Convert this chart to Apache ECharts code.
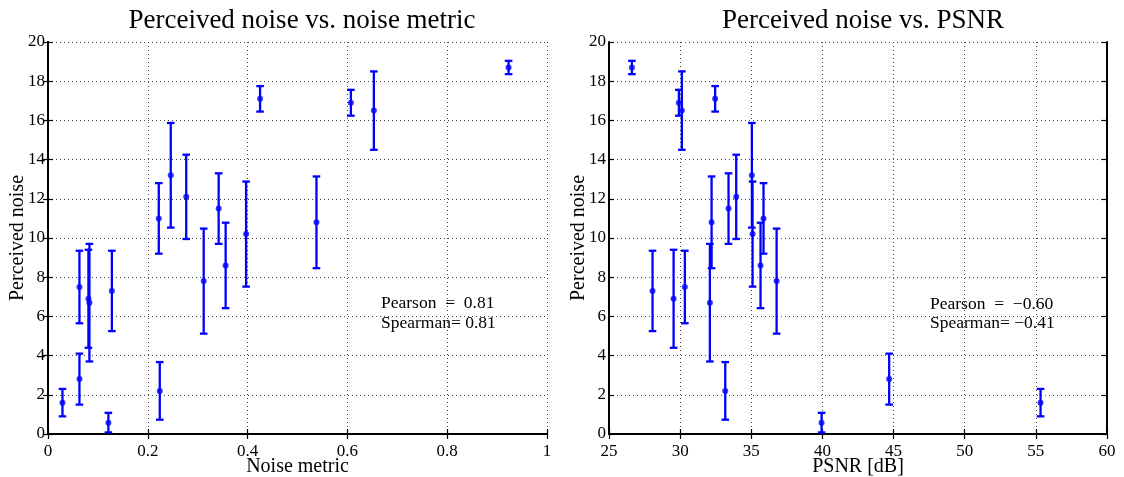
<!DOCTYPE html>
<html><head><meta charset="utf-8">
<script src="https://cdn.jsdelivr.net/npm/echarts@6/dist/echarts.min.js"></script>
<style>html,body{margin:0;padding:0;background:#fff}#c{width:1124px;height:477px}</style>
</head><body><div id="c"></div>
<script>
// Data (20 stimuli)
const noiseMetric = [0.029,0.063,0.063,0.081,0.083,0.128,0.121,0.222,0.224,0.246,0.277,0.312,0.342,0.356,0.397,0.425,0.538,0.607,0.653,0.923];
const psnr        = [55.33,44.69,30.33,29.54,32.09,28.06,39.94,35.86,33.17,35.04,33.94,36.78,33.40,35.65,35.09,32.46,32.21,29.91,30.12,26.61];
const perceived   = [1.6,2.8,7.5,6.9,6.7,7.3,0.58,11.0,2.2,13.2,12.1,7.8,11.5,8.6,10.2,17.1,10.8,16.9,16.5,18.7];
const errHalf     = [0.7,1.3,1.85,2.5,3.0,2.05,0.5,1.8,1.47,2.67,2.15,2.68,1.8,2.18,2.68,0.65,2.34,0.66,2.0,0.34];
const yTicks = [0,2,4,6,8,10,12,14,16,18,20];
const leftX = {min:0, max:1, interval:0.2};
const rightX = {min:25, max:60, interval:5};
const titles = ['Perceived noise vs. noise metric','Perceived noise vs. PSNR'];
const xNames = ['Noise metric','PSNR [dB]'];
const yName = 'Perceived noise';
const stats = [['Pearson  =  0.81','Spearman= 0.81'],['Pearson  =  \u22120.60','Spearman= \u22120.41']];

const FONT = "'Liberation Serif','Times New Roman',serif";
const BLUE = '#0000ff';
const chart = echarts.init(document.getElementById('c'));

function errData(xs){ return xs.map((x,i)=>[x, perceived[i], perceived[i]-errHalf[i], perceived[i]+errHalf[i]]); }
function renderErr(params, api){
  const x = api.value(0), lo = api.value(2), hi = api.value(3);
  const t = api.coord([x, hi]), b = api.coord([x, lo]);
  const w = 3.8;
  const st = {stroke: BLUE, lineWidth: 2.3};
  return {type:'group', children:[
    {type:'line', shape:{x1:t[0],y1:t[1],x2:b[0],y2:b[1]}, style:st},
    {type:'line', shape:{x1:t[0]-w,y1:t[1],x2:t[0]+w,y2:t[1]}, style:st},
    {type:'line', shape:{x1:b[0]-w,y1:b[1],x2:b[0]+w,y2:b[1]}, style:st}
  ]};
}
const grids = [
  {left:48, right:577, top:42, bottom:43, containLabel:false, outerBoundsMode:'none'},
  {left:609, right:17, top:42, bottom:43, containLabel:false, outerBoundsMode:'none'}
];
const axLine = {show:true, lineStyle:{color:'#000', width:2}};
const tick = {show:true, inside:true, length:5, lineStyle:{color:'#000', width:1.2}};
const grid = {show:true, lineStyle:{color:'#444', type:[1,3], width:1}};
const lbl = {color:'#000', fontFamily:FONT, fontSize:17};
const nameStyle = {color:'#000', fontFamily:FONT, fontSize:20};
const xAxes = [], yAxes = [];
[leftX, rightX].forEach((sc, g)=>{
  xAxes.push({type:'value', gridIndex:g, position:'bottom', min:sc.min, max:sc.max, interval:sc.interval,
    axisLine:axLine, axisTick:tick, splitLine:grid, axisLabel:Object.assign({margin:9}, lbl),
    name:xNames[g], nameLocation:'middle', nameGap:23, nameMoveOverlap:false, nameTextStyle:nameStyle});
  xAxes.push({type:'value', gridIndex:g, position:'top', min:sc.min, max:sc.max, interval:sc.interval,
    axisLine:axLine, axisTick:tick, splitLine:{show:false}, axisLabel:{show:false}});
  yAxes.push({type:'value', gridIndex:g, position:'left', min:0, max:20, interval:2,
    axisLine:axLine, axisTick:tick, splitLine:grid, axisLabel:Object.assign({margin:3}, lbl),
    name:yName, nameLocation:'middle', nameGap:20, nameMoveOverlap:false, nameTextStyle:nameStyle});
  yAxes.push({type:'value', gridIndex:g, position:'right', min:0, max:20, interval:2,
    axisLine:axLine, axisTick:tick, splitLine:{show:false}, axisLabel:{show:false}});
});
const series = [];
[noiseMetric, psnr].forEach((xs, g)=>{
  series.push({type:'custom', xAxisIndex:2*g, yAxisIndex:2*g, data:errData(xs), renderItem:renderErr, silent:true, z:2});
  series.push({type:'scatter', xAxisIndex:2*g, yAxisIndex:2*g, data:xs.map((x,i)=>[x, perceived[i]]), symbol:'circle', symbolSize:6, itemStyle:{color:BLUE}, silent:true, z:3});
});
chart.setOption({
  animation:false,
  title: titles.map((t,g)=>({text:t, left: g===0 ? 297 : 858, top:2, textAlign:'center',
    textStyle:{fontFamily:FONT, fontSize:27, fontWeight:'normal', color:'#000'}})),
  grid: grids, xAxis: xAxes, yAxis: yAxes, series: series,
  graphic: [
    {type:'text', left:381, top:293, style:{text:stats[0].join('\n'), font:'17.5px '+FONT, fill:'#000', lineHeight:20}},
    {type:'text', left:930, top:295, style:{text:stats[1].join('\n'), font:'17.5px '+FONT, fill:'#000', lineHeight:19}}
  ]
});
</script></body></html>
